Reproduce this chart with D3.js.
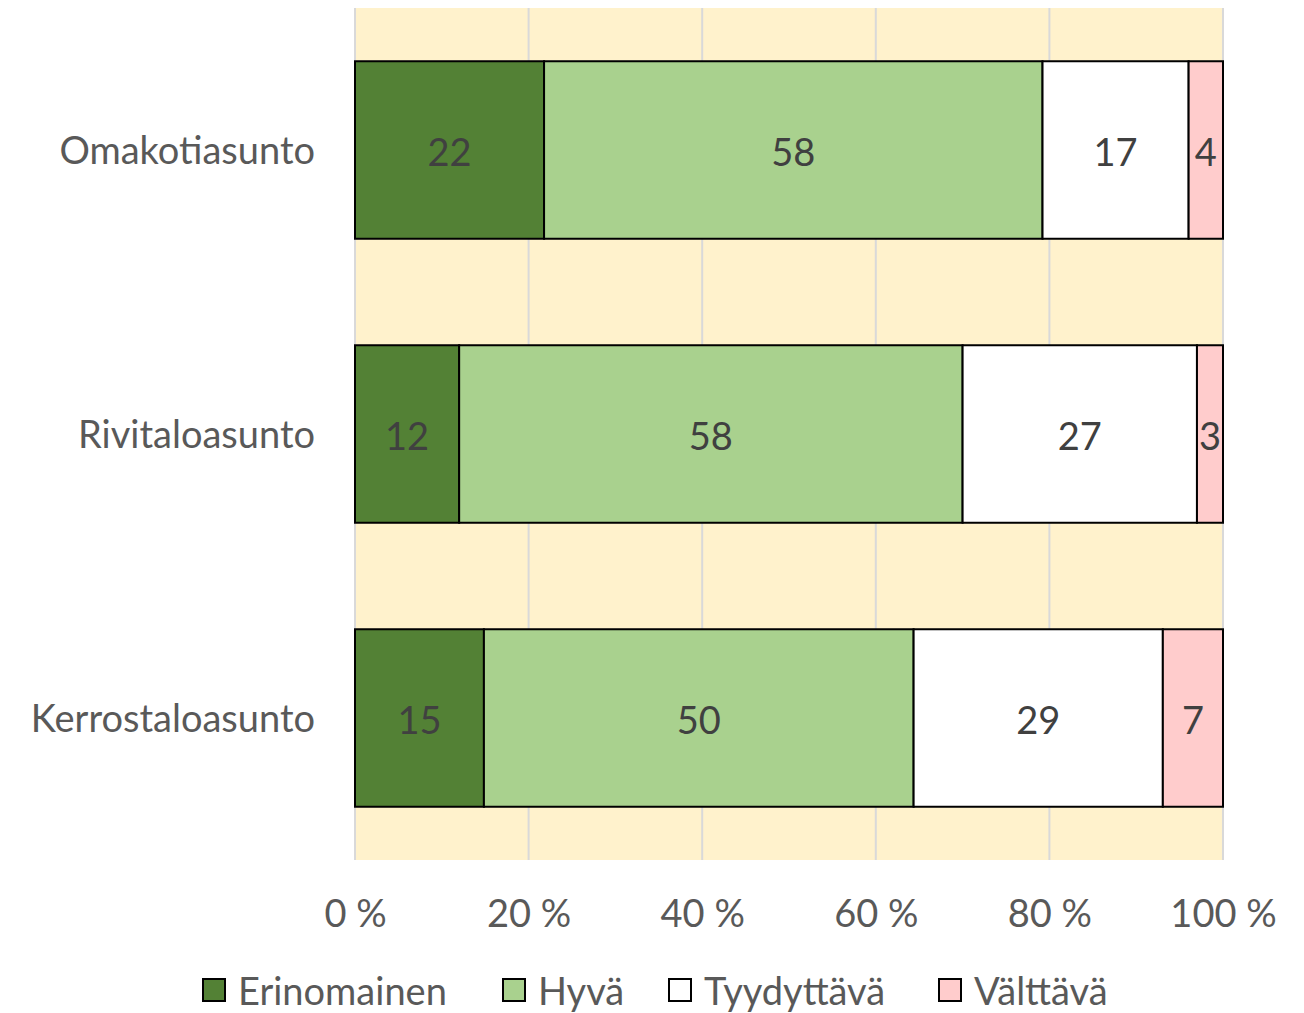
<!DOCTYPE html>
<html lang="fi">
<head>
<meta charset="utf-8"/>
<title>Asuntotyypit</title>
<script src="https://d3js.org/d3.v7.min.js"></script>
<style>
  body { margin: 0; background: #fff; }
  svg { display: block; font-family: Lato, "Open Sans", sans-serif; }
</style>
</head>
<body>
<svg id="chart" width="1304" height="1013"></svg>
<script>
  // data
  const categories = ["Omakotiasunto", "Rivitaloasunto", "Kerrostaloasunto"];
  const seriesNames = ["Erinomainen", "Hyvä", "Tyydyttävä", "Välttävä"];
  const erinomainen = [22, 12, 15];
  const hyva = [58, 58, 50];
  const tyydyttava = [17, 27, 29];
  const valttava = [4, 3, 7];
  const xTicks = [0, 0.2, 0.4, 0.6, 0.8, 1];

  const colors = ["#538135", "#A9D18E", "#FFFFFF", "#FFCCCC"];
  const fontSize = 38;
  const font = "Lato, 'Open Sans', sans-serif";

  const rows = categories.map((c, i) => ({
    cat: c,
    "Erinomainen": erinomainen[i],
    "Hyvä": hyva[i],
    "Tyydyttävä": tyydyttava[i],
    "Välttävä": valttava[i]
  }));

  const svg = d3.select("#chart");
  const margin = { left: 355, right: 81, top: 8, bottom: 153 };
  const W = 1304, H = 1013;
  const innerW = W - margin.left - margin.right;
  const innerH = H - margin.top - margin.bottom;

  const g = svg.append("g").attr("transform", `translate(${margin.left},${margin.top})`);

  const x = d3.scaleLinear().domain([0, 1]).range([0, innerW]);
  const y = d3.scaleBand().domain(categories).range([0, innerH])
    .paddingInner(0.375).paddingOuter(0.1875);

  // plot background
  g.append("rect").attr("x", 0).attr("y", 0).attr("width", innerW).attr("height", innerH)
    .attr("fill", "#FFF2CC");

  // gridlines
  g.append("g").selectAll("line").data(xTicks).join("line")
    .attr("x1", d => x(d)).attr("x2", d => x(d))
    .attr("y1", 0).attr("y2", innerH)
    .attr("stroke", "#D9D9D9").attr("stroke-width", 2);

  const stacked = d3.stack().keys(seriesNames).offset(d3.stackOffsetExpand)(rows);

  const layers = g.selectAll("g.layer").data(stacked).join("g").attr("class", "layer");
  layers.selectAll("rect").data((d, i) => d.map(p => ({ p, i }))).join("rect")
    .attr("x", d => x(d.p[0]))
    .attr("y", d => y(d.p.data.cat))
    .attr("width", d => x(d.p[1]) - x(d.p[0]))
    .attr("height", y.bandwidth())
    .attr("fill", d => colors[d.i])
    .attr("stroke", "#000")
    .attr("stroke-width", 2);

  layers.selectAll("text").data(d => d.map(p => ({ p, key: d.key }))).join("text")
    .attr("x", d => (x(d.p[0]) + x(d.p[1])) / 2)
    .attr("y", d => y(d.p.data.cat) + y.bandwidth() / 2 + 2)
    .attr("dy", "0.36em")
    .attr("text-anchor", "middle")
    .attr("font-size", fontSize)
    .attr("fill", "#404040")
    .text(d => d.p.data[d.key]);

  // axes
  const xAxis = g.append("g").attr("transform", `translate(0,${innerH})`)
    .call(d3.axisBottom(x).tickValues(xTicks).tickSize(0).tickPadding(40)
      .tickFormat(d => Math.round(d * 100) + " %"));
  xAxis.select(".domain").remove();
  xAxis.selectAll("text").attr("font-size", fontSize).attr("fill", "#595959")
    .attr("font-family", font);

  const yAxis = g.append("g")
    .call(d3.axisLeft(y).tickSize(0).tickPadding(40));
  yAxis.select(".domain").remove();
  yAxis.selectAll("text").attr("font-size", fontSize).attr("fill", "#595959")
    .attr("font-family", font).attr("dy", "0.38em");

  // legend
  const legendX = [203, 503, 669, 939];
  const legend = svg.append("g").attr("transform", "translate(0,979)");
  const items = legend.selectAll("g").data(seriesNames).join("g")
    .attr("transform", (d, i) => `translate(${legendX[i]},0)`);
  items.append("rect").attr("width", 22).attr("height", 22)
    .attr("fill", (d, i) => colors[i]).attr("stroke", "#000").attr("stroke-width", 2);
  items.append("text").attr("x", 35).attr("y", 12).attr("dy", "0.36em")
    .attr("font-size", fontSize).attr("fill", "#595959").text(d => d);
</script>
</body>
</html>
